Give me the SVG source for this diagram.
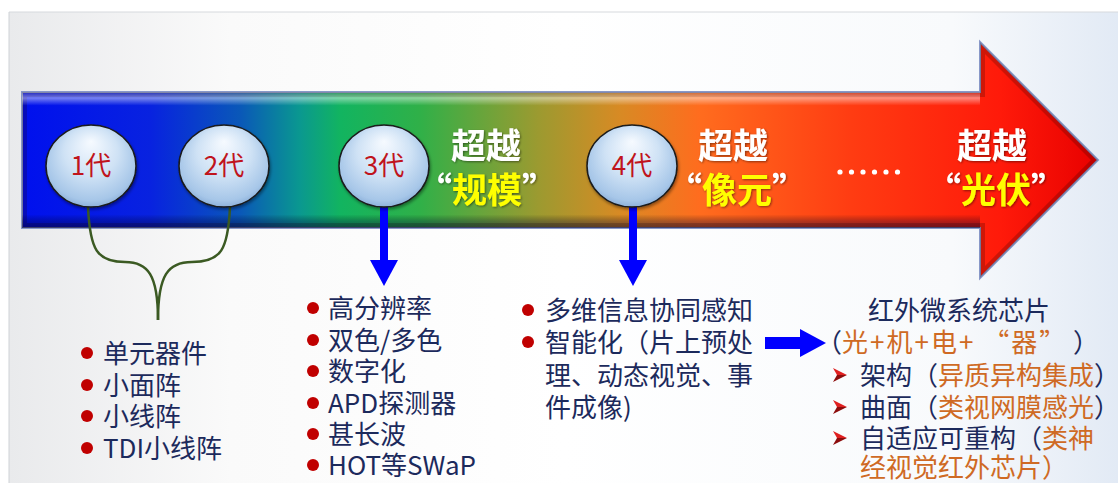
<svg xmlns="http://www.w3.org/2000/svg" xmlns:xlink="http://www.w3.org/1999/xlink" width="1118" height="483" viewBox="0 0 1118 483">
<defs>
  <style>
    text { font-family: 'Noto Sans CJK SC', 'Noto Sans', sans-serif; }
    .gen { font-size: 26px; font-weight: 400; fill: #c0141c; text-anchor: middle; }
    .big { font-size: 35px; font-weight: 700; text-anchor: middle; }
    .wh { fill: #ffffff; }
    .yl { fill: #ffff00; }
    .item { font-size: 26px; fill: #1c2a5c; }
    .org { fill: #cf6a24; }
    .dot { fill: #c00000; }
    .brace { fill: none; stroke: #3b5a23; stroke-width: 2.5; }
    .blue { fill: none; stroke: #0000ff; }
  </style>
  <linearGradient id="bg" x1="0" y1="0" x2="1" y2="0">
    <stop offset="0" stop-color="#e9eaec"/>
    <stop offset="0.2" stop-color="#fafafa"/>
    <stop offset="0.5" stop-color="#ffffff"/>
    <stop offset="0.85" stop-color="#f8fafc"/>
    <stop offset="1" stop-color="#e2eaf5"/>
  </linearGradient>
  <linearGradient id="bar" gradientUnits="userSpaceOnUse" x1="22" y1="0" x2="1098" y2="0">
    <stop offset="0" stop-color="#0010ee"/>
    <stop offset="0.119" stop-color="#0822e0"/>
    <stop offset="0.203" stop-color="#0a58b8"/>
    <stop offset="0.258" stop-color="#0a9890"/>
    <stop offset="0.296" stop-color="#12b460"/>
    <stop offset="0.37" stop-color="#30b048"/>
    <stop offset="0.48" stop-color="#9c9a30"/>
    <stop offset="0.556" stop-color="#d88a24"/>
    <stop offset="0.63" stop-color="#ff6c1e"/>
    <stop offset="0.77" stop-color="#ff3c12"/>
    <stop offset="0.909" stop-color="#ff1a0a"/>
    <stop offset="1" stop-color="#e80000"/>
  </linearGradient>
  <linearGradient id="bevel" gradientUnits="userSpaceOnUse" x1="0" y1="92" x2="0" y2="228">
    <stop offset="0" stop-color="#ffffff" stop-opacity="0.1"/>
    <stop offset="0.045" stop-color="#ffffff" stop-opacity="0.45"/>
    <stop offset="0.1" stop-color="#ffffff" stop-opacity="0"/>
    <stop offset="0.9" stop-color="#000000" stop-opacity="0"/>
    <stop offset="0.95" stop-color="#000030" stop-opacity="0.3"/>
    <stop offset="1" stop-color="#000030" stop-opacity="0.45"/>
  </linearGradient>
  <radialGradient id="ball" cx="0.5" cy="0.45" r="0.6" fx="0.5" fy="0.2">
    <stop offset="0" stop-color="#f6faff"/>
    <stop offset="0.5" stop-color="#cfe2f5"/>
    <stop offset="0.85" stop-color="#a6c6e8"/>
    <stop offset="1" stop-color="#7ea4d2"/>
  </radialGradient>
  <clipPath id="arrowClip">
    <path d="M22,92 L980,92 L980,42 L1098,160 L980,278 L980,228 L22,228 Z"/>
  </clipPath>
  <filter id="tshadow" x="-10%" y="-10%" width="130%" height="130%">
    <feDropShadow dx="1" dy="1" stdDeviation="0.8" flood-color="#000000" flood-opacity="0.45"/>
  </filter>
  <filter id="cshadow" x="-20%" y="-20%" width="140%" height="150%">
    <feDropShadow dx="1" dy="2" stdDeviation="1.5" flood-color="#000000" flood-opacity="0.4"/>
  </filter>
  <marker id="ah" markerUnits="userSpaceOnUse" markerWidth="26" markerHeight="28" refX="0" refY="14" orient="auto">
    <path d="M0,0 L26,14 L0,28 Z" fill="#0000ff"/>
  </marker>
  <g id="chev">
    <polygon points="0,-7 14,0 4,0" fill="#e02020"/>
    <polygon points="0,7 14,0 4,0" fill="#8c0c0c"/>
  </g>
</defs>

<!-- background -->
<rect x="0" y="0" width="1118" height="483" fill="#ffffff"/>
<rect x="9" y="12" width="1109" height="471" fill="url(#bg)"/>
<line x1="9" y1="12" x2="1118" y2="12" stroke="#d6d9dd" stroke-width="1"/>
<line x1="9" y1="12" x2="9" y2="483" stroke="#cfd2d6" stroke-width="1"/>

<!-- big gradient arrow -->
<g id="timeline-arrow">
  <path d="M22,92 L980,92 L980,42 L1098,160 L980,278 L980,228 L22,228 Z" fill="url(#bar)" stroke="#8898c8" stroke-width="2"/>
  <g clip-path="url(#arrowClip)">
    <path d="M22,92 L980,92 L980,42 L1098,160 L980,278 L980,228 L22,228 Z" fill="none" stroke="#200000" stroke-opacity="0.22" stroke-width="10"/>
    <rect x="22" y="92" width="958" height="136" fill="url(#bevel)"/>
  </g>
  <g id="dots" fill="#ffffff">
    <circle cx="840" cy="172" r="2.6"/>
    <circle cx="851.5" cy="172" r="2.6"/>
    <circle cx="863" cy="172" r="2.6"/>
    <circle cx="874.5" cy="172" r="2.6"/>
    <circle cx="886" cy="172" r="2.6"/>
    <circle cx="897.5" cy="172" r="2.6"/>
  </g>
</g>

<!-- connectors -->
<g id="connectors">
  <path class="brace" d="M88,207 C90,250 97,262 125,262 C148,262 158,275 158,320"/>
  <path class="brace" d="M230,207 C228,250 221,262 192,262 C168,262 158,275 158,320"/>
  <line class="blue" x1="384" y1="207" x2="384" y2="260" stroke-width="8" marker-end="url(#ah)"/>
  <line class="blue" x1="633" y1="207" x2="633" y2="260" stroke-width="8" marker-end="url(#ah)"/>
  <line class="blue" x1="765" y1="343" x2="800" y2="343" stroke-width="12" marker-end="url(#ah)"/>
</g>

<!-- generation nodes -->
<g id="gen1">
  <ellipse cx="91" cy="166" rx="45" ry="41" fill="url(#ball)" stroke="#1a1a1a" stroke-width="1.5" filter="url(#cshadow)"/>
  <text class="gen" x="91" y="175">1代</text>
</g>
<g id="gen2">
  <ellipse cx="224" cy="166" rx="45" ry="41" fill="url(#ball)" stroke="#1a1a1a" stroke-width="1.5" filter="url(#cshadow)"/>
  <text class="gen" x="224" y="175">2代</text>
</g>
<g id="gen3">
  <ellipse cx="384" cy="166" rx="45" ry="41" fill="url(#ball)" stroke="#1a1a1a" stroke-width="1.5" filter="url(#cshadow)"/>
  <text class="gen" x="384" y="175">3代</text>
</g>
<g id="gen4">
  <ellipse cx="632" cy="166" rx="45" ry="41" fill="url(#ball)" stroke="#1a1a1a" stroke-width="1.5" filter="url(#cshadow)"/>
  <text class="gen" x="632" y="175">4代</text>
</g>

<!-- beyond labels -->
<g id="beyond-scale" filter="url(#tshadow)">
  <text class="big wh" x="486" y="159">超越</text>
  <text class="big" x="487" y="203"><tspan class="wh">“</tspan><tspan class="yl">规模</tspan><tspan class="wh">”</tspan></text>
</g>
<g id="beyond-pixel" filter="url(#tshadow)">
  <text class="big wh" x="733" y="159">超越</text>
  <text class="big" x="737" y="203"><tspan class="wh">“</tspan><tspan class="yl">像元</tspan><tspan class="wh">”</tspan></text>
</g>
<g id="beyond-pv" filter="url(#tshadow)">
  <text class="big wh" x="992" y="159">超越</text>
  <text class="big" x="996" y="203"><tspan class="wh">“</tspan><tspan class="yl">光伏</tspan><tspan class="wh">”</tspan></text>
</g>

<!-- list gen 1/2 -->
<g id="list-gen12">
  <circle class="dot" cx="87" cy="353" r="6"/>
  <circle class="dot" cx="87" cy="385" r="6"/>
  <circle class="dot" cx="87" cy="416" r="6"/>
  <circle class="dot" cx="87" cy="448" r="6"/>
  <text class="item" x="103" y="363">单元器件</text>
  <text class="item" x="103" y="395">小面阵</text>
  <text class="item" x="103" y="426">小线阵</text>
  <text class="item" x="103" y="458">TDI小线阵</text>
</g>

<!-- list gen 3 -->
<g id="list-gen3">
  <circle class="dot" cx="313" cy="308" r="6"/>
  <circle class="dot" cx="313" cy="340" r="6"/>
  <circle class="dot" cx="313" cy="371" r="6"/>
  <circle class="dot" cx="313" cy="403" r="6"/>
  <circle class="dot" cx="313" cy="434" r="6"/>
  <circle class="dot" cx="313" cy="465" r="6"/>
  <text class="item" x="328" y="318">高分辨率</text>
  <text class="item" x="328" y="350">双色/多色</text>
  <text class="item" x="328" y="381">数字化</text>
  <text class="item" x="328" y="413">APD探测器</text>
  <text class="item" x="328" y="444">甚长波</text>
  <text class="item" x="328" y="475">HOT等SWaP</text>
</g>

<!-- list gen 4 -->
<g id="list-gen4">
  <circle class="dot" cx="528" cy="310" r="6"/>
  <circle class="dot" cx="528" cy="342" r="6"/>
  <text class="item" x="545" y="320">多维信息协同感知</text>
  <text class="item" x="545" y="352">智能化（片上预处</text>
  <text class="item" x="545" y="385">理、动态视觉、事</text>
  <text class="item" x="545" y="417">件成像)</text>
</g>

<!-- future -->
<g id="list-future">
  <text class="item" x="868" y="320">红外微系统芯片</text>
  <text class="item" x="816" y="352" xml:space="preserve">（<tspan class="org" letter-spacing="2">光+机+电+ “器”</tspan> ）</text>
  <use xlink:href="#chev" x="833" y="375"/>
  <use xlink:href="#chev" x="833" y="407"/>
  <use xlink:href="#chev" x="833" y="438"/>
  <text class="item" x="860" y="385">架构（<tspan class="org">异质异构集成</tspan>）</text>
  <text class="item" x="860" y="417">曲面（<tspan class="org">类视网膜感光</tspan>）</text>
  <text class="item" x="860" y="448">自适应可重构（<tspan class="org">类神</tspan></text>
  <text class="item org" x="860" y="477">经视觉红外芯片）</text>
</g>
</svg>
